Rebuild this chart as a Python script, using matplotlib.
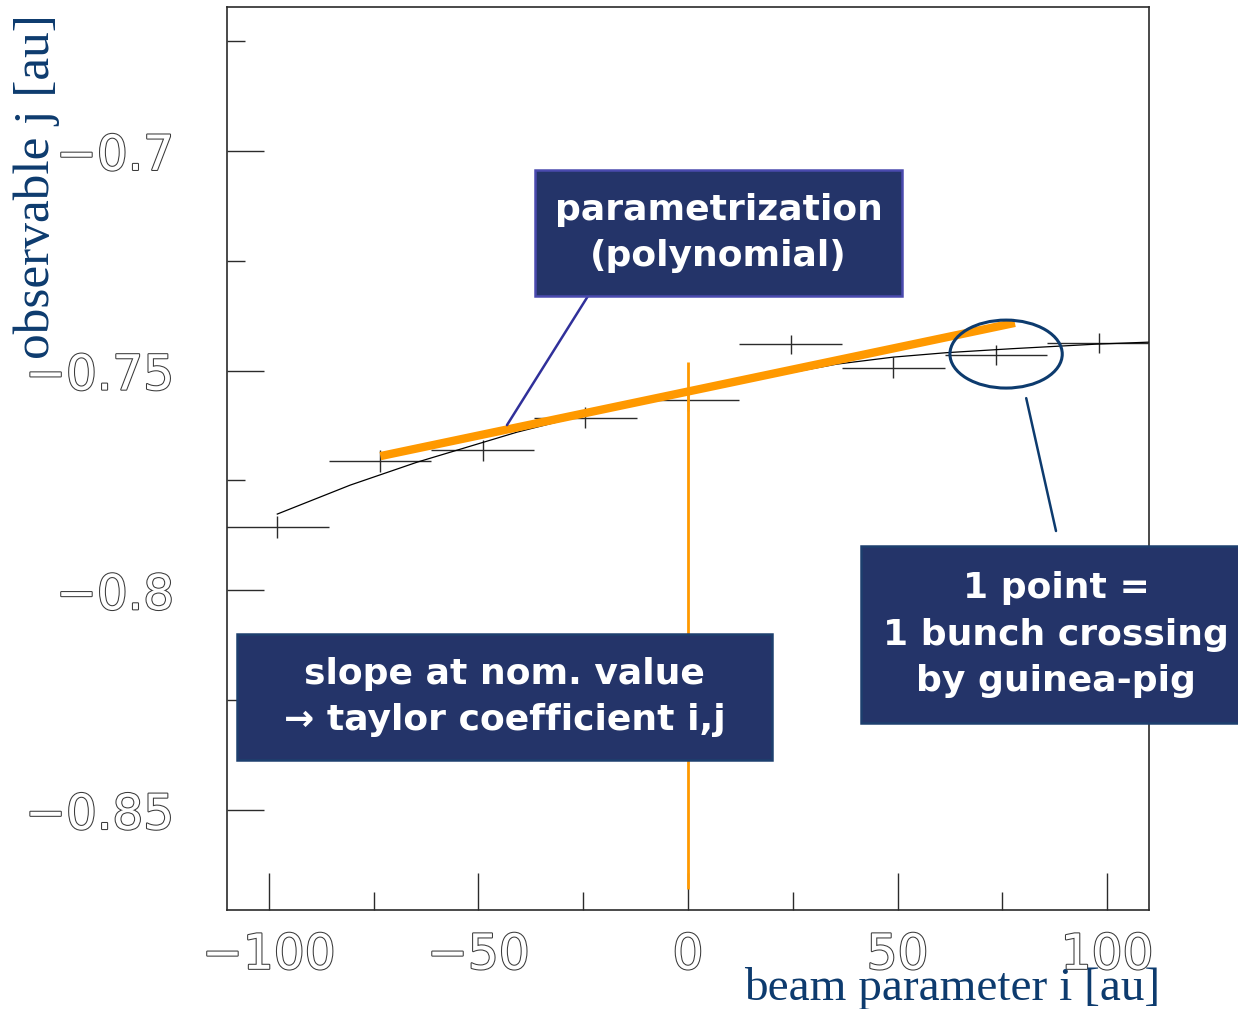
import numpy as np
import matplotlib
matplotlib.use("Agg")
from matplotlib import pyplot as plt
from matplotlib import patheffects as pe
from matplotlib.patches import Rectangle, Ellipse
from matplotlib.ticker import FixedLocator, NullFormatter

# scan points: one bunch crossing each
beam_i = [-98, -73.5, -49, -24.5, 0, 24.5, 49, 73.5, 98]
obs_j = [-0.7856, -0.7706, -0.7681, -0.7607, -0.7567, -0.7440, -0.7493, -0.7465, -0.7437]
obs_err = [0.0025, 0.0025, 0.0024, 0.0024, 0.0024, 0.0022, 0.0023, 0.0023, 0.0022]
bin_half = [12.25] * 9

# polynomial parametrization, sampled
fit_i = [-98, -80.6, -64.6, -40.8, -20, 0, 20, 35.5, 49, 61.7, 77.4, 97.4, 109.8]
fit_j = [-0.78264, -0.77605, -0.77082, -0.76400, -0.75898, -0.75512, -0.75125,
         -0.74852, -0.74692, -0.74591, -0.74500, -0.74397, -0.74352]

# tangent at the nominal value
tan_i = [-73.4, 78.0]
tan_j = [-0.76945, -0.73913]
nominal = 0.0
nominal_span = [-0.8680, -0.7481]

xticks = [-100, -50, 0, 50, 100]
xlabels = ["\u2212100", "\u221250", "0", "50", "100"]
yticks = [-0.85, -0.8, -0.75, -0.7]
ylabels = ["\u22120.85", "\u22120.8", "\u22120.75", "\u22120.7"]

W, H = 1238, 1009
fig = plt.figure(figsize=(W / 100, H / 100), dpi=100)
ax = fig.add_axes([227 / W, 1 - 910 / H, 922 / W, 903 / H])
ax.set_xlim(-110, 110)
ax.set_ylim(-0.87275, -0.66724)

dark = "#2b2b2b"
for s in ax.spines.values():
    s.set_color(dark)
    s.set_linewidth(1.2)

ax.xaxis.set_major_locator(FixedLocator(xticks))
ax.xaxis.set_minor_locator(FixedLocator([-75, -25, 25, 75]))
ax.yaxis.set_major_locator(FixedLocator(yticks))
ax.yaxis.set_minor_locator(FixedLocator([-0.825, -0.775, -0.725, -0.675]))
ax.set_xticklabels(xlabels)
ax.set_yticklabels(ylabels)
ax.xaxis.set_minor_formatter(NullFormatter())
ax.yaxis.set_minor_formatter(NullFormatter())
ax.tick_params(which="both", direction="in", color=dark, width=1.0,
               top=False, right=False, labelcolor="white", labelsize=35)
ax.tick_params(which="major", length=26.5)
ax.tick_params(which="minor", length=13)
ax.tick_params(axis="y", pad=38)
ax.tick_params(axis="x", pad=15)
hollow = [pe.Stroke(linewidth=1.5, foreground="#3a3a3a"), pe.Normal()]
for lab in ax.get_xticklabels() + ax.get_yticklabels():
    lab.set_path_effects(hollow)

# data with bin widths and errors
ax.errorbar(beam_i, obs_j, xerr=bin_half, yerr=obs_err, fmt="none",
            ecolor=dark, elinewidth=1.0, capsize=0, zorder=3)
ax.plot(fit_i, fit_j, color="black", lw=0.9, zorder=3)

orange = "#ff9900"
ax.plot([nominal, nominal], nominal_span, color=orange, lw=2.0, zorder=4,
        solid_capstyle="butt")
ax.plot(tan_i, tan_j, color=orange, lw=6.0, zorder=5, solid_capstyle="butt")

navy = "#0d3b6e"
ax.add_patch(Ellipse((75.9, -0.74623), 26.8, 0.01547, fill=False,
                     edgecolor=navy, lw=2.2, zorder=6))

# axis titles
serif = "Liberation Serif"
fig.text(37 / W, 1 - 187 / H, "observable j [au]", rotation=90, ha="center",
         va="center", family=serif, fontsize=37, color=navy, zorder=2)
fig.text(1160 / W, 1 - 1000 / H, "beam parameter i [au]", ha="right",
         va="baseline", family=serif, fontsize=34, color=navy, zorder=2)

# call-out boxes
box_fill = "#243469"


def px(x, y):
    return x / W, 1 - y / H


def callout(x0, y0, x1, y1, text, edge, cx=None):
    fx0, fy1 = px(x0, y1)
    fx1, fy0 = px(x1, y0)
    fig.add_artist(Rectangle((fx0, fy1), fx1 - fx0, fy0 - fy1,
                             transform=fig.transFigure, facecolor=box_fill,
                             edgecolor=edge, lw=1.8, zorder=10))
    if cx is None:
        cx = (x0 + x1) / 2
    fig.text(cx / W, 1 - (y0 + y1) / 2 / H, text, ha="center", va="center",
             color="white", fontsize=26, fontweight="bold",
             family="DejaVu Sans", linespacing=1.45, zorder=11)


callout(535, 170, 902, 296, "parametrization\n(polynomial)", "#4a4aae")
callout(237, 634, 772, 760, "slope at nom. value\n\u2192 taylor coefficient i,j", "#1d3f6e")
callout(861, 546, 1250, 723, "1 point =\n1 bunch crossing\nby guinea-pig", "#1d3f6e", cx=1056)

ax.annotate("", xy=(-43.2, -0.7624), xycoords="data",
            xytext=px(588, 296), textcoords="figure fraction",
            arrowprops=dict(arrowstyle="-", color="#30309a", lw=1.8,
                            shrinkA=0, shrinkB=0), zorder=7)
ax.annotate("", xy=(80.7, -0.75626), xycoords="data",
            xytext=px(1056, 531), textcoords="figure fraction",
            arrowprops=dict(arrowstyle="-", color=navy, lw=1.8,
                            shrinkA=0, shrinkB=0), zorder=7)

fig.savefig("out.png", dpi=100)
